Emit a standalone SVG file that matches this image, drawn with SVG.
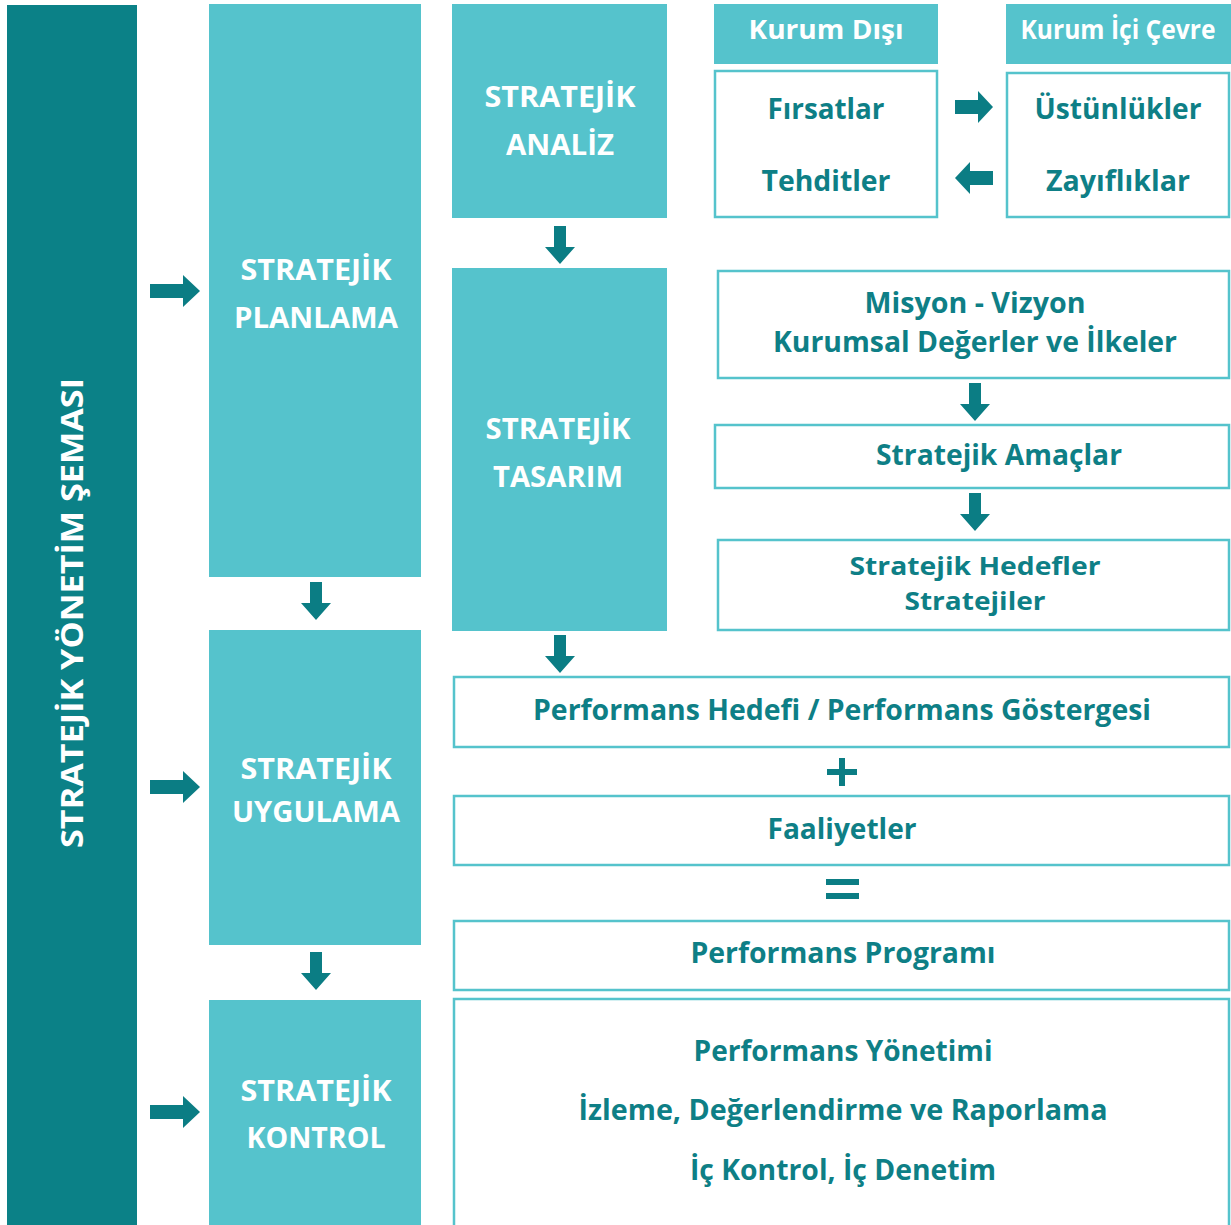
<svg xmlns="http://www.w3.org/2000/svg" xmlns:xlink="http://www.w3.org/1999/xlink" width="1231" height="1225" viewBox="0 0 1231 1225">
<style>
.dark{fill:#0b8187}
.light{fill:#55c3cc}
.box{fill:#ffffff;stroke:#55c3cc;stroke-width:2.5}
.wt{font-family:"Open Sans","Liberation Sans",sans-serif;font-weight:700;fill:#ffffff;text-anchor:middle}
.tt{font-family:"Open Sans","Liberation Sans",sans-serif;font-weight:700;fill:#0e7f86;text-anchor:middle}
.arr{fill:#0b7d84}
</style>
<defs>
<path id="dn" d="M-6,0 H6 V21 H15 L0,38 L-15,21 H-6 Z"/>
<path id="rt" d="M0,-7 H33 V-16 L50,0 L33,16 V7 H0 Z"/>
<path id="rts" d="M0,-7 H23 V-16 L38,0 L23,16 V7 H0 Z"/>
</defs>
<rect width="1231" height="1225" fill="#ffffff"/>

<g id="node-sema">
<rect class="dark" x="7" y="5" width="130" height="1220"/>
<text class="wt" font-size="31" transform="translate(83,613) rotate(-90)" textLength="470" lengthAdjust="spacingAndGlyphs">STRATEJİK YÖNETİM ŞEMASI</text>
</g>

<g id="node-planlama">
<rect class="light" x="209" y="4" width="212" height="573"/>
<text class="wt" font-size="28" x="316" y="280" textLength="151" lengthAdjust="spacingAndGlyphs">STRATEJİK</text>
<text class="wt" font-size="28" x="316" y="328" textLength="164" lengthAdjust="spacingAndGlyphs">PLANLAMA</text>
</g>
<g id="node-uygulama">
<rect class="light" x="209" y="630" width="212" height="315"/>
<text class="wt" font-size="28" x="316" y="779" textLength="151" lengthAdjust="spacingAndGlyphs">STRATEJİK</text>
<text class="wt" font-size="28" x="316" y="822" textLength="168" lengthAdjust="spacingAndGlyphs">UYGULAMA</text>
</g>
<g id="node-kontrol">
<rect class="light" x="209" y="1000" width="212" height="225"/>
<text class="wt" font-size="28" x="316" y="1101" textLength="151" lengthAdjust="spacingAndGlyphs">STRATEJİK</text>
<text class="wt" font-size="28" x="316" y="1148" textLength="139" lengthAdjust="spacingAndGlyphs">KONTROL</text>
</g>
<g id="node-analiz">
<rect class="light" x="452" y="4" width="215" height="214"/>
<text class="wt" font-size="28" x="560" y="107" textLength="151" lengthAdjust="spacingAndGlyphs">STRATEJİK</text>
<text class="wt" font-size="28" x="560" y="155" textLength="108" lengthAdjust="spacingAndGlyphs">ANALİZ</text>
</g>
<g id="node-tasarim">
<rect class="light" x="452" y="268" width="215" height="363"/>
<text class="wt" font-size="28" x="558" y="439" textLength="145" lengthAdjust="spacingAndGlyphs">STRATEJİK</text>
<text class="wt" font-size="28" x="558" y="487" textLength="130" lengthAdjust="spacingAndGlyphs">TASARIM</text>
</g>

<g id="node-kurum-disi">
<rect class="light" x="714" y="4" width="224" height="60"/>
<text class="wt" font-size="26" x="826" y="39" textLength="155" lengthAdjust="spacingAndGlyphs">Kurum Dışı</text>
</g>
<g id="node-kurum-ici">
<rect class="light" x="1006" y="4" width="225" height="60"/>
<text class="wt" font-size="26" x="1118" y="39" textLength="195" lengthAdjust="spacingAndGlyphs">Kurum İçi Çevre</text>
</g>
<g id="node-firsat">
<rect class="box" x="715" y="71" width="222" height="146"/>
<text class="tt" font-size="28" x="826" y="119" textLength="117" lengthAdjust="spacingAndGlyphs">Fırsatlar</text>
<text class="tt" font-size="28" x="826" y="191" textLength="129" lengthAdjust="spacingAndGlyphs">Tehditler</text>
</g>
<g id="node-ustunluk">
<rect class="box" x="1007" y="73" width="222" height="144"/>
<text class="tt" font-size="28" x="1118" y="119" textLength="167" lengthAdjust="spacingAndGlyphs">Üstünlükler</text>
<text class="tt" font-size="28" x="1118" y="191" textLength="144" lengthAdjust="spacingAndGlyphs">Zayıflıklar</text>
</g>

<g id="node-misyon">
<rect class="box" x="718" y="271" width="511" height="107"/>
<text class="tt" font-size="28" x="975" y="313" textLength="221" lengthAdjust="spacingAndGlyphs">Misyon - Vizyon</text>
<text class="tt" font-size="28" x="975" y="352" textLength="404" lengthAdjust="spacingAndGlyphs">Kurumsal Değerler ve İlkeler</text>
</g>
<g id="node-amaclar">
<rect class="box" x="715" y="425" width="514" height="63"/>
<text class="tt" font-size="28" x="999" y="465" textLength="246" lengthAdjust="spacingAndGlyphs">Stratejik Amaçlar</text>
</g>
<g id="node-hedefler">
<rect class="box" x="718" y="540" width="511" height="90"/>
<text class="tt" font-size="25" x="975" y="575" textLength="251" lengthAdjust="spacingAndGlyphs">Stratejik Hedefler</text>
<text class="tt" font-size="25" x="975" y="610" textLength="141" lengthAdjust="spacingAndGlyphs">Stratejiler</text>
</g>

<g id="node-perf-hedef">
<rect class="box" x="454" y="677" width="775" height="70"/>
<text class="tt" font-size="28" x="842" y="720" textLength="618" lengthAdjust="spacingAndGlyphs">Performans Hedefi / Performans Göstergesi</text>
</g>
<g id="node-plus">
<rect class="arr" x="839" y="758" width="6" height="28"/>
<rect class="arr" x="827" y="769" width="30" height="6"/>
</g>
<g id="node-faaliyet">
<rect class="box" x="454" y="796" width="775" height="69"/>
<text class="tt" font-size="28" x="842" y="839" textLength="149" lengthAdjust="spacingAndGlyphs">Faaliyetler</text>
</g>
<g id="node-equals">
<rect class="arr" x="826" y="879" width="33" height="6"/>
<rect class="arr" x="826" y="893" width="33" height="6"/>
</g>
<g id="node-perf-program">
<rect class="box" x="454" y="921" width="775" height="69"/>
<text class="tt" font-size="28" x="843" y="963" textLength="305" lengthAdjust="spacingAndGlyphs">Performans Programı</text>
</g>
<g id="node-perf-yonetim">
<rect class="box" x="454" y="999" width="775" height="232"/>
<text class="tt" font-size="28" x="843" y="1061" textLength="299" lengthAdjust="spacingAndGlyphs">Performans Yönetimi</text>
<text class="tt" font-size="28" x="843" y="1120" textLength="529" lengthAdjust="spacingAndGlyphs">İzleme, Değerlendirme ve Raporlama</text>
<text class="tt" font-size="28" x="843" y="1180" textLength="306" lengthAdjust="spacingAndGlyphs">İç Kontrol, İç Denetim</text>
</g>

<g id="connectors" class="arr">
<use xlink:href="#rt" x="150" y="291"/>
<use xlink:href="#rt" x="150" y="787"/>
<use xlink:href="#rt" x="150" y="1112"/>
<use xlink:href="#dn" x="316" y="582"/>
<use xlink:href="#dn" x="316" y="952"/>
<use xlink:href="#dn" x="560" y="226"/>
<use xlink:href="#dn" x="560" y="635"/>
<use xlink:href="#dn" x="975" y="383"/>
<use xlink:href="#dn" x="975" y="493"/>
<use xlink:href="#rts" x="955" y="107"/>
<use xlink:href="#rts" transform="translate(993,178) scale(-1,1)"/>
</g>
</svg>
